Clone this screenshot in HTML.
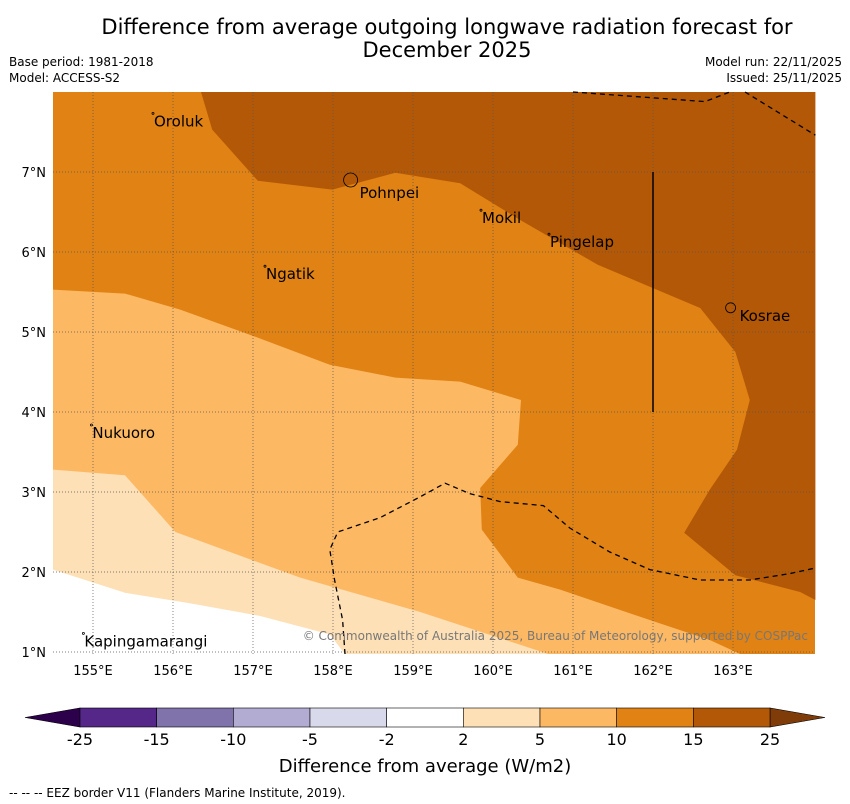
<!DOCTYPE html>
<html><head><meta charset="utf-8"><style>
body{margin:0;background:#fff;font-family:"Liberation Sans","DejaVu Sans",sans-serif;}
svg{display:block}
</style></head><body>
<svg id="chart" width="850" height="804" xmlns="http://www.w3.org/2000/svg" font-family="DejaVu Sans, Liberation Sans, sans-serif">
<text x="447" y="34" font-size="21" text-anchor="middle">Difference from average outgoing longwave radiation forecast for</text>
<text x="447" y="57" font-size="21" text-anchor="middle">December 2025</text>
<text x="9" y="66" font-size="12">Base period: 1981-2018</text>
<text x="9" y="82" font-size="12">Model: ACCESS-S2</text>
<text x="842" y="66" font-size="12" text-anchor="end">Model run: 22/11/2025</text>
<text x="842" y="82" font-size="12" text-anchor="end">Issued: 25/11/2025</text>
<g id="map"></g>
<g id="cbar"></g>
<text x="425" y="772" font-size="18" text-anchor="middle">Difference from average (W/m2)</text>
<text x="9" y="797" font-size="12">--  --  -- EEZ border V11 (Flanders Marine Institute, 2019).</text>
</svg>
<script>
const lonTicks=[155,156,157,158,159,160,161,162,163];
const latTicks=[1,2,3,4,5,6,7];
const levels=["-25","-15","-10","-5","-2","2","5","10","15","25"];
const levelColors=["#542788","#8073ac","#b2abd2","#d8daeb","#ffffff","#fee0b6","#fdb863","#e08214","#b35806"];
const contourBrown=[[156.35,8.0],[164.03,8.0],[164.03,1.65],[163.84,1.75],[163.03,1.96],[162.39,2.49],[162.71,3.03],[163.05,3.53],[163.21,4.15],[163.03,4.75],[162.59,5.3],[161.31,5.84],[160.34,6.4],[159.59,6.86],[158.78,6.99],[157.99,6.78],[157.06,6.89],[156.49,7.53]];
const contourLight=[[154.5,5.53],[155.4,5.48],[156.09,5.28],[157.03,4.94],[157.96,4.59],[158.78,4.43],[159.59,4.38],[160.35,4.15],[160.31,3.59],[159.84,3.05],[159.86,2.53],[160.31,1.93],[160.84,1.78],[161.96,1.4],[162.71,1.15],[163.09,0.975],[154.5,0.975]];
const contourPale=[[154.5,3.28],[155.4,3.21],[156.03,2.5],[157.59,1.93],[159.09,1.5],[160.69,0.975],[154.5,0.975]];
const contourWhite=[[154.5,2.03],[155.4,1.74],[156.21,1.61],[157.09,1.45],[157.96,1.22],[158.15,0.975],[154.5,0.975]];
const eez1=[[161.0,8.0],[162.65,7.88],[162.96,8.0]];
const eez2=[[163.15,8.0],[164.03,7.46]];
const eez3=[[158.15,0.975],[158.12,1.4],[158.02,1.9],[157.96,2.28],[158.06,2.5],[158.59,2.68],[159.09,2.94],[159.4,3.11],[159.71,2.98],[160.09,2.88],[160.63,2.83],[160.96,2.55],[161.46,2.25],[161.96,2.03],[162.59,1.9],[163.21,1.9],[163.71,1.98],[164.03,2.05]];
const islands=[["Oroluk",155.75,7.67],["Pohnpei",158.22,6.9],["Mokil",159.85,6.46],["Pingelap",160.7,6.16],["Ngatik",157.15,5.76],["Kosrae",162.97,5.24],["Nukuoro",154.98,3.775],["Kapingamarangi",154.88,1.17]];
const X0=53,X1=815,Y0=92,Y1=654,LON0=154.5,LON1=164.025,LAT0=0.975,LAT1=8.0;
const x=l=>X0+(l-LON0)/(LON1-LON0)*(X1-X0);
const y=l=>Y1-(l-LAT0)/(LAT1-LAT0)*(Y1-Y0);
const NS="http://www.w3.org/2000/svg";
const map=document.getElementById('map');
function mk(t,a,p){const e=document.createElementNS(NS,t);for(const k in a)e.setAttribute(k,a[k]);(p||map).appendChild(e);return e;}
const pts=a=>a.map(p=>x(p[0]).toFixed(1)+","+y(p[1]).toFixed(1)).join(" ");
let r=mk('rect',{x:X0,y:Y0,width:X1-X0,height:Y1-Y0,fill:"#e08214"});


[[contourBrown,"#b35806","contour-15-25"],[contourLight,"#fdb863","contour-5-10"],[contourPale,"#fee0b6","contour-2-5"],[contourWhite,"#ffffff","contour-neutral"]].forEach(c=>{
 const e=mk('polygon',{points:pts(c[0]),fill:c[1]});
 
 
});
lonTicks.forEach(l=>{
 const e=mk('line',{x1:x(l),x2:x(l),y1:Y0,y2:Y1,stroke:"#555","stroke-width":0.7,"stroke-dasharray":"1,2"});
 
 
 const t=mk('text',{x:x(l),y:675,"font-size":13,"text-anchor":"middle"});t.textContent=l+"°E";
 
 
});
latTicks.forEach(l=>{
 const e=mk('line',{x1:X0,x2:X1,y1:y(l),y2:y(l),stroke:"#555","stroke-width":0.7,"stroke-dasharray":"1,2"});
 
 
 const t=mk('text',{x:46,y:y(l)+5,"font-size":13,"text-anchor":"end"});t.textContent=l+"°N";
 
 
});
const vl=mk('line',{x1:x(162),x2:x(162),y1:y(7),y2:y(4),stroke:"#000","stroke-width":1.5});


[eez1,eez2,eez3].forEach(a=>{
 const e=mk('polyline',{points:pts(a),fill:"none",stroke:"#000","stroke-width":1.3,"stroke-dasharray":"5,4"});
 
 
});
islands.forEach(s=>{
 const big=s[0]=="Pohnpei"||s[0]=="Kosrae";
 const d=mk('circle',{cx:x(s[1]),cy:y(s[2])-(s[0]=="Pohnpei"?0:5),r:s[0]=="Pohnpei"?7:(s[0]=="Kosrae"?5:1),fill:"none",stroke:"#000","stroke-width":0.8});
 
 
 const t=mk('text',{x:x(s[1])+(big?9:1),y:y(s[2])+(s[0]=="Pohnpei"?18:8),"font-size":15});t.textContent=s[0];
 
 
});
const cp=mk('text',{x:808,y:640,"font-size":12,"text-anchor":"end",fill:"#777"});cp.textContent="© Commonwealth of Australia 2025, Bureau of Meteorology, supported by COSPPac";


const cb=document.getElementById('cbar');
const CB0=80,CB1=770,CY=708,CH=19,w=(CB1-CB0)/levelColors.length;
const lt=mk('polygon',{points:`25,${CY+CH/2} ${CB0},${CY} ${CB0},${CY+CH}`,fill:"#2d004b",stroke:"#000","stroke-width":0.6},cb);


const rt=mk('polygon',{points:`825,${CY+CH/2} ${CB1},${CY} ${CB1},${CY+CH}`,fill:"#7f3b08",stroke:"#000","stroke-width":0.6},cb);


levelColors.forEach((c,i)=>{
 const e=mk('rect',{x:CB0+i*w,y:CY,width:w,height:CH,fill:c,stroke:"#000","stroke-width":0.6},cb);
 
 
});
levels.forEach((v,i)=>{
 const t=mk('text',{x:CB0+i*w,y:745,"font-size":16,"text-anchor":"middle"},cb);t.textContent=v;
 
 
});
</script>
</body></html>
